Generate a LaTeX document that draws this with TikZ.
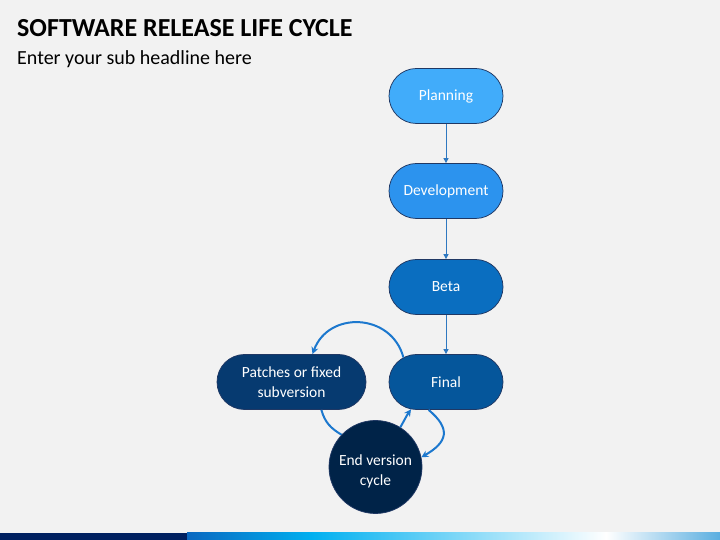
\documentclass[tikz,border=0pt]{standalone}
\usepackage{fontspec}
\setmainfont{Carlito}
\usetikzlibrary{shapes.misc,arrows.meta}
\definecolor{bgc}{HTML}{F2F2F2}
\definecolor{cplan}{HTML}{41ACFA}
\definecolor{cdev}{HTML}{2C93EE}
\definecolor{cbeta}{HTML}{0A6EC0}
\definecolor{cfinal}{HTML}{05569B}
\definecolor{cpatch}{HTML}{063A70}
\definecolor{cend}{HTML}{002348}
\definecolor{cborder}{HTML}{203864}
\definecolor{carrow}{HTML}{2E78C0}
\definecolor{carc}{HTML}{1C78CE}
\definecolor{navy}{HTML}{002060}
\definecolor{barblue}{HTML}{0A68C0}
\definecolor{barcyan}{HTML}{00B0F0}
\definecolor{barlight}{HTML}{5AAEE0}
\begin{document}
\begin{tikzpicture}[x=1pt,y=1pt,
  pill/.style={rounded rectangle, draw=cborder, line width=0.75pt, minimum height=55pt, minimum width=114pt, inner sep=0pt, text=white, font=\fontsize{15.5}{19.5}\selectfont, align=center},
  endc/.style={circle, draw=cborder, line width=0.75pt, fill=cend, minimum size=93pt, inner sep=0pt, text=white, font=\fontsize{15.5}{20}\selectfont},
  flow/.style={draw=carrow, line width=0.9pt, -{Triangle[length=5pt,width=5pt]}},
  cyc/.style={draw=carc, line width=2pt, -{Stealth[length=7pt,width=7pt]}},
  cycn/.style={draw=carc, line width=2pt}
]
\path[fill=bgc] (0,0) rectangle (720,540);
\useasboundingbox (0,0) rectangle (720,540);
% bottom bar
\fill[navy] (0,0) rectangle (187,7);
\shade[left color=barblue, right color=barcyan] (187,0) rectangle (312.5,7);
\shade[left color=barcyan, right color=white] (312,0) rectangle (606.5,7);
\shade[left color=white, right color=barlight] (606,0) rectangle (720,7);
% titles
\node[anchor=base west, inner sep=0pt, font=\bfseries\fontsize{26}{30}\selectfont] (title) at (17,503) {SOFTWARE RELEASE LIFE CYCLE};
\node[anchor=base west, inner sep=0pt, font=\fontsize{20}{24}\selectfont] (sub) at (17,475) {Enter your sub headline here};
% nodes
\node[pill, fill=cplan] (plan) at (446,444) {Planning};
\node[pill, fill=cdev] (dev) at (446,349) {Development};
\node[pill, fill=cbeta] (beta) at (446,253) {Beta};
\node[pill, fill=cfinal] (final) at (446,158) {Final};
\node[pill, fill=cpatch, minimum width=149pt] (patch) at (291.5,158) {Patches or fixed\\subversion};
% connectors
\draw[flow] (plan.south) -- (dev.north);
\draw[flow] (dev.south) -- (beta.north);
\draw[flow] (beta.south) -- (final.north);
\draw[cyc] (final.150) to[out=105,in=70,looseness=1.3] (patch.53);
\draw[cycn] (patch.-43) to[out=285,in=150] (342,105) coordinate (llend);
\node[endc] (endv) at (375.5,73) {\raisebox{-8pt}[0pt][0pt]{\begin{tabular}{@{}c@{}}End version\\cycle\end{tabular}}};
\draw[cyc] (endv.58) to[out=60,in=235] (final.218);
\draw[cyc] (final.238) to[out=-40,in=30,looseness=1.6] (endv.12);
\end{tikzpicture}
\end{document}
